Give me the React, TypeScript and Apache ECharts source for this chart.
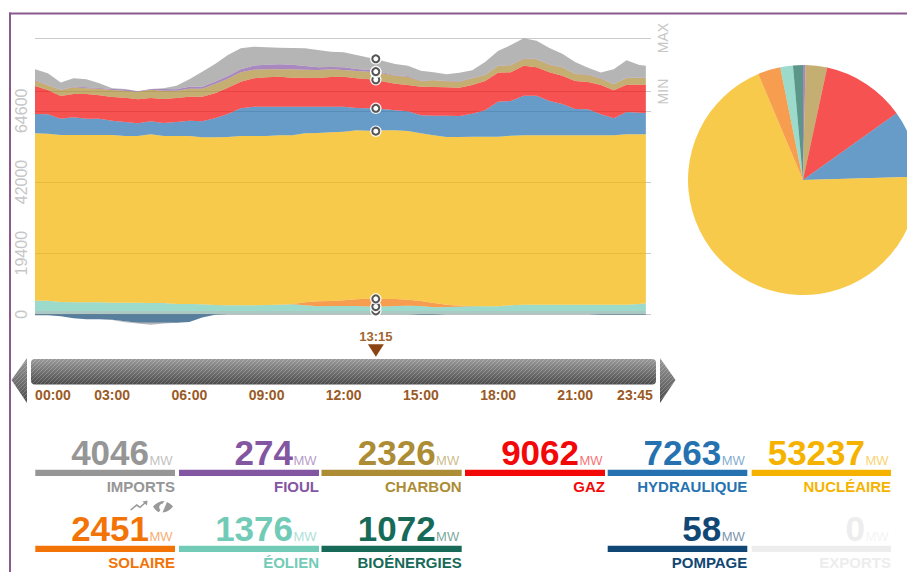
import React, { useEffect, useRef } from "react";
import * as echarts from "echarts";

const FONT = '"Liberation Sans", Arial, sans-serif';

const times = [0,0.5,1,1.5,2,2.5,3,3.5,4,4.5,5,5.5,6,6.5,7,7.5,8,8.5,9,9.5,10,10.5,11,11.5,12,12.5,13,13.25,13.5,14,14.5,15,15.5,16,16.5,17,17.5,18,18.5,19,19.5,20,20.5,21,21.5,22,22.5,23,23.5,23.75];
const currentTime = 13.25;
const HOUR_MS = 3600000;

const bio = [1050,1050,1060,1060,1050,1050,1060,1060,1050,1050,1060,1060,1060,1050,1050,1060,1060,1070,1070,1060,1060,1070,1070,1070,1070,1070,1070,1072,1070,1070,1060,1060,1060,1060,1050,1050,1050,1060,1060,1060,1060,1060,1060,1050,1050,1050,1050,1050,1050,1050];
const wind = [3280,3280,2857,2751,2751,2751,2645,2645,2645,2539,2539,2222,2222,2116,1904,1799,1799,1799,1904,2010,2116,1799,1481,1587,1587,1587,1375,1376,1375,1587,1693,1587,1164,1270,1375,1481,1481,1481,1799,2010,2010,2010,2010,2010,2010,2010,2010,2010,2222,2433];
const solar = [0,0,0,0,0,0,0,0,0,0,0,0,0,0,0,0,0,0,0,0,106,952,1587,1587,1799,2116,2539,2451,2433,2222,1904,1587,1375,741,317,106,0,0,0,0,0,0,0,0,0,0,0,0,0,0];
const nuclear = [53112,53006,53006,53112,53112,53112,53217,52900,52900,53535,53006,53323,53323,53006,53217,53429,53746,53746,53641,53746,53535,53641,53429,53535,53535,53641,53323,53237,53535,53535,53535,53217,53217,53217,53535,53746,53852,53852,53852,53746,53746,53746,53746,53746,53746,53746,53746,54064,53852,53641];
const hydro = [6136,6136,5184,5607,5184,5184,4549,4444,4020,4126,4126,4444,4867,5078,6031,7300,8781,9310,9310,9099,9099,8464,8358,8147,7935,7089,7089,7263,6771,6348,6242,5713,6242,6771,6665,7300,8358,11109,11003,12590,12590,10897,9945,8358,8252,6665,5396,7089,6877,6771];
const gas = [8887,7723,7194,7406,7829,7406,7512,7723,7618,7406,7618,7618,7618,7829,7935,8358,8464,8993,9310,9522,9205,9205,9099,9416,9522,9416,9205,9062,8781,8464,8358,9099,9099,8993,8993,9099,9310,9205,9099,9522,8993,9099,8993,8887,8676,9310,8887,8676,8887,8993];
const coal = [1693,1481,1904,2116,1799,2116,2222,2222,2433,2645,2645,2328,2539,2539,2962,2857,2962,2751,2539,2328,2645,2539,2539,2433,2116,2328,2433,2326,2539,2539,2645,1693,2116,1904,1904,2116,1904,2116,2222,2222,2539,2433,2645,2222,2328,2010,1904,2116,2116,2116];
const fuel = [212,106,50,212,317,212,317,423,106,212,529,423,635,635,741,846,952,1270,1481,1587,1481,1164,846,741,846,635,529,274,317,106,212,212,106,106,106,106,106,106,106,106,106,106,106,106,106,106,106,106,106,106];
const imports = [3386,3703,2328,2645,2539,1481,212,106,0,0,212,1164,2328,4761,5607,6665,6665,6031,5502,5290,5290,5607,5502,4867,4761,4444,3915,4046,3703,3597,3280,3174,2433,2116,2751,2433,4020,4655,6348,6348,5819,5184,4232,3703,2116,1904,4655,5502,4020,3809];
const pumping = [-300,-300,-635,-1270,-1587,-1587,-1693,-2222,-2645,-2645,-2645,-2645,-2433,-1000,-150,0,0,0,0,0,0,0,0,0,0,0,0,-58,0,0,0,-150,-150,0,0,0,0,0,0,0,0,0,0,0,0,-150,-150,-150,-150,-150];
const exportsMw = [0,0,0,0,0,0,-100,-300,-300,-700,-300,-50,0,0,0,0,0,0,0,0,0,0,0,0,0,0,0,0,0,0,0,0,0,0,0,0,0,0,0,0,0,0,0,0,0,0,0,0,0,0];

const yTicks = [0, 19400, 42000, 64600, 70700, 87700];
const rangeTicks = [70700, 87700];
const sliderTimes = [0, 3, 6, 9, 12, 15, 18, 21, 23.75];
const sliderLabels = ["00:00","03:00","06:00","09:00","12:00","15:00","18:00","21:00","23:45"];

const colors = {
  imports: "#969696", fuel: "#8356a2", coal: "#ac8c35", gas: "#f20809", hydro: "#2672b0",
  nuclear: "#f5b300", solar: "#f27406", wind: "#72cbb7", bio: "#166a57", pump: "#114774", exports: "#ededed",
};

const stackSeries = [
  { name: "BIOÉNERGIES", data: bio, color: colors.bio, stack: "pos", areaOpacity: 0.36 },
  { name: "ÉOLIEN", data: wind, color: colors.wind, stack: "pos", areaOpacity: 0.7 },
  { name: "SOLAIRE", data: solar, color: colors.solar, stack: "pos", areaOpacity: 0.7 },
  { name: "NUCLÉAIRE", data: nuclear, color: colors.nuclear, stack: "pos", areaOpacity: 0.7 },
  { name: "HYDRAULIQUE", data: hydro, color: colors.hydro, stack: "pos", areaOpacity: 0.7 },
  { name: "GAZ", data: gas, color: colors.gas, stack: "pos", areaOpacity: 0.7 },
  { name: "CHARBON", data: coal, color: colors.coal, stack: "pos", areaOpacity: 0.7 },
  { name: "FIOUL", data: fuel, color: colors.fuel, stack: "pos", areaOpacity: 0.7 },
  { name: "IMPORTS", data: imports, color: colors.imports, stack: "pos", areaOpacity: 0.7 },
  { name: "POMPAGE", data: pumping, color: colors.pump, stack: "neg", areaOpacity: 0.7 },
  { name: "EXPORTS", data: exportsMw, color: colors.imports, stack: "neg", areaOpacity: 0.7 },
];

const pieNames = ["FIOUL","CHARBON","GAZ","HYDRAULIQUE","NUCLÉAIRE","SOLAIRE","ÉOLIEN","BIOÉNERGIES"];
const pieValues = [274, 2326, 9062, 7263, 53237, 2451, 1376, 1072];
const pieColors = [colors.fuel, colors.coal, colors.gas, colors.hydro, colors.nuclear, colors.solar, colors.wind, colors.bio];

const tileNames = ["IMPORTS","FIOUL","CHARBON","GAZ","HYDRAULIQUE","NUCLÉAIRE","SOLAIRE","ÉOLIEN","BIOÉNERGIES","POMPAGE","EXPORTS"];
const tileValues = ["4046","274","2326","9062","7263","53237","2451","1376","1072","58","0"];
const tileColors = [colors.imports, colors.fuel, colors.coal, colors.gas, colors.hydro, colors.nuclear, colors.solar, colors.wind, colors.bio, colors.pump, colors.exports];
const tileColumns = [0,1,2,3,4,5,0,1,2,4,5];
const tileRows = [0,0,0,0,0,0,1,1,1,1,1];
const columnLeft = [35.3, 179, 321.5, 465, 607.7, 751.7];
const columnRight = [175, 319, 461.7, 605, 747.3, 891];
const rowRuleTop = [469.7, 545.7];
const rowNumberBase = [465, 541];
const rowLabelBase = [492, 568];

echarts.graphic.registerShape(
  "eyeSlashed",
  echarts.graphic.extendPath(
    "M0 6 C3 2.5 7 0.5 11.5 0.5 L9.5 3.2 C6.5 3.4 5 7 7.4 9.4 L5.8 11.8 C3.5 10.8 1.5 8.5 0 6Z M14 1.5 C16.5 2.6 18.6 4.3 20 6 C18 9 14.5 11.5 9.5 12Z",
    {}
  ) as any
);

function hatchImage(): string {
  const c = document.createElement("canvas");
  c.width = 4;
  c.height = 4;
  const g = c.getContext("2d")!;
  g.strokeStyle = "rgba(255,255,255,0.22)";
  g.lineWidth = 1;
  g.beginPath();
  g.moveTo(-1, 5); g.lineTo(5, -1);
  g.moveTo(-1, 1); g.lineTo(1, -1);
  g.moveTo(3, 5); g.lineTo(5, 3);
  g.stroke();
  return c.toDataURL();
}

export default function App() {
  const ref = useRef<HTMLDivElement>(null);
  useEffect(() => {
    const chart = echarts.init(ref.current!, undefined, { renderer: "svg" });
    const xPx = (t: number) => 35 + (t / 23.75) * 611;
    const hatch = { image: hatchImage(), repeat: "repeat" };
    const grad = new echarts.graphic.LinearGradient(0, 0, 0, 1, [
      { offset: 0, color: "#9a9a9a" },
      { offset: 1, color: "#4a4a4a" },
    ]);
    const txt = (text: string, x: number, base: number, size: number, fill: string, align: string, bold = true, opacity = 1) => ({
      type: "text",
      silent: true,
      style: {
        text, x, y: base - 0.35 * size, fill, opacity,
        font: `${bold ? "bold " : ""}${size}px ${FONT}`,
        textAlign: align, textVerticalAlign: "middle",
      },
    });
    const elements: any[] = [
      { type: "rect", silent: true, shape: { x: 9, y: 12.5, width: 898, height: 2 }, style: { fill: "#8a5a8e" } },
      { type: "rect", silent: true, shape: { x: 9, y: 12.5, width: 2, height: 560 }, style: { fill: "#8a5a8e" } },
    ];
    const bars = [
      { type: "rect", shape: { x: 31, y: 359, width: 625, height: 25.5, r: 4 } },
      { type: "polygon", shape: { points: [[27, 358], [11.5, 380], [27, 403]] } },
      { type: "polygon", shape: { points: [[660, 358], [675.5, 380], [660, 403]] } },
    ];
    bars.forEach((b) => {
      elements.push({ ...b, silent: true, style: { fill: grad } });
      elements.push({ ...b, silent: true, style: { fill: hatch } });
    });
    sliderLabels.forEach((l, i) => {
      let cx = xPx(sliderTimes[i]);
      if (i === 0) cx += 18;
      if (i === sliderLabels.length - 1) cx -= 11;
      elements.push(txt(l, cx, 400, 14, "#9a5a25", "center"));
    });
    const curX = xPx(currentTime);
    elements.push(txt("13:15", curX, 341.5, 13, "#a0662f", "center"));
    elements.push({
      type: "polygon", silent: true,
      shape: { points: [[curX - 8, 344.3], [curX + 8, 344.3], [curX, 356.7]] },
      style: { fill: "#8b4513" },
    });
    tileNames.forEach((name, i) => {
      const col = tileColumns[i];
      const row = tileRows[i];
      const right = columnRight[col];
      const color = tileColors[i];
      elements.push({
        type: "rect", silent: true,
        shape: { x: columnLeft[col], y: rowRuleTop[row], width: right - columnLeft[col], height: 6.3 },
        style: { fill: color },
      });
      elements.push(txt(tileValues[i], right - 26, rowNumberBase[row], 35, color, "right"));
      elements.push(txt("MW", right - 2.5, rowNumberBase[row], 13, color, "right", false, 0.6));
      elements.push(txt(name, right, rowLabelBase[row], 15, color, "right"));
    });
    // small icons above the SOLAIRE tile
    elements.push({
      type: "polyline", silent: true,
      shape: { points: [[130.7, 510], [136.7, 505], [140, 507.3], [145.5, 502.5]] },
      style: { stroke: "#999999", fill: "none", lineWidth: 1.6 },
    });
    elements.push({
      type: "polygon", silent: true,
      shape: { points: [[142.5, 501.5], [147.5, 500.5], [147, 505.5]] },
      style: { fill: "#999999" },
    });
    elements.push({ type: "eyeSlashed", silent: true, x: 153, y: 500.5, scaleX: 1, scaleY: 1, style: { fill: "#999999" } });

    const markerIndex = times.indexOf(currentTime);
    const toPoints = (d: number[]) => times.map((t, i) => [t * HOUR_MS, d[i]]);
    const series: any[] = stackSeries.map((s, si) => ({
      name: s.name,
      type: "line",
      stack: s.stack,
      data: toPoints(s.data),
      showSymbol: false,
      symbol: "none",
      lineStyle: { width: 0 },
      areaStyle: { color: s.color, opacity: s.areaOpacity },
      silent: true,
      z: 2 + si * 0.01,
    }));
    // marker layers sit on top of every area: a white halo and a grey ring per stacked source
    stackSeries.filter((s) => s.stack === "pos").forEach((s, si) => {
      const markerSymbol = (_: any, p: any) => (p.dataIndex === markerIndex ? "circle" : "none");
      series.push({
        type: "line", stack: "halo", silent: true, data: toPoints(s.data),
        showAllSymbol: true, symbol: markerSymbol, symbolSize: 11.5, lineStyle: { width: 0 },
        itemStyle: { color: "#fff", opacity: 0.9 }, z: 10 + si,
      });
      series.push({
        type: "line", stack: "ring", silent: true, data: toPoints(s.data),
        showAllSymbol: true, symbol: markerSymbol, symbolSize: 7, lineStyle: { width: 0 },
        itemStyle: { color: "#fff", borderColor: "#555", borderWidth: 2 }, z: 10.5 + si,
      });
    });
    series.push({
      type: "pie",
      silent: true,
      center: [803, 180],
      radius: 115,
      startAngle: 90,
      clockwise: true,
      label: { show: false },
      labelLine: { show: false },
      data: pieNames.map((name, i) => ({
        name,
        value: pieValues[i],
        itemStyle: { color: pieColors[i], opacity: 0.7 },
      })),
    });

    chart.setOption({
      animation: false,
      backgroundColor: "#ffffff",
      textStyle: { fontFamily: FONT },
      grid: { left: 35, right: 256, top: 37.1, height: 289.8, containLabel: false },
      xAxis: { type: "time", min: 0, max: 23.95 * HOUR_MS, show: false },
      yAxis: [
        {
          type: "value", min: -4000, max: 88000, position: "left",
          axisLine: { show: false },
          axisTick: { show: false, customValues: yTicks },
          axisLabel: {
            customValues: yTicks.slice(0, 4), rotate: 90, color: "#c6c6c6", fontSize: 16, margin: 6,
            fontFamily: FONT, formatter: (v: number) => String(v),
          },
          splitLine: { show: true, lineStyle: { color: "#cbcbcb", width: 1 } },
        },
        {
          type: "value", min: -4000, max: 88000, position: "right",
          axisLine: { show: false },
          axisTick: { show: false, customValues: rangeTicks },
          axisLabel: {
            customValues: rangeTicks, rotate: 90, color: "#c6c6c6", fontSize: 14, margin: 5, fontFamily: FONT,
            formatter: (v: number) => (v === rangeTicks[0] ? "MIN" : "MAX"),
          },
          splitLine: { show: false },
        },
      ],
      series,
      graphic: { elements },
    });
    return () => chart.dispose();
  }, []);
  return <div ref={ref} style={{ position: "fixed", left: 0, top: 0, width: 907, height: 572 }} />;
}
